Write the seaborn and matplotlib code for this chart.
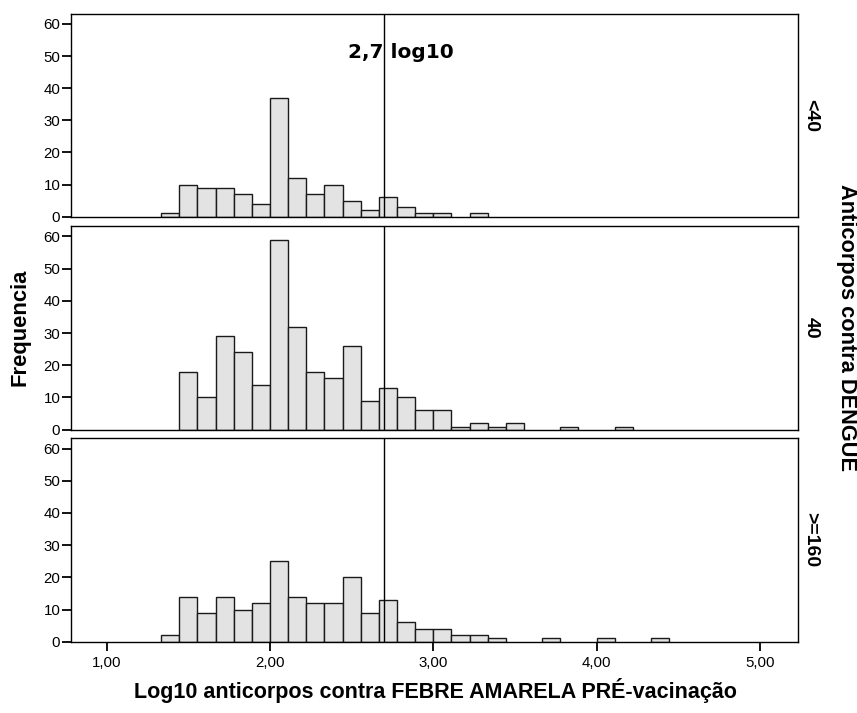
import matplotlib
matplotlib.use("Agg")
import matplotlib.pyplot as plt
import numpy as np
import pandas as pd
import seaborn as sns

# Histogram bins (SPSS layout): first bin starts at 1.333, width 1/9
first_bin = 4 / 3
bin_width = 1 / 9

# Counts per bin for each DENGUE antibody group
groups = ["<40", "40", ">=160"]
counts_lt40 = [1, 10, 9, 9, 7, 4, 37, 12, 7, 10, 5, 2, 6, 3, 1, 1, 0, 1]
counts_40 = [0, 18, 10, 29, 24, 14, 59, 32, 18, 16, 26, 9, 13, 10, 6, 6, 1, 2,
             1, 2, 0, 0, 1, 0, 0, 1]
counts_ge160 = [2, 14, 9, 14, 10, 12, 25, 14, 12, 12, 20, 9, 13, 6, 4, 4, 2, 2,
                1, 0, 0, 1, 0, 0, 1, 0, 0, 1]
cutoff = 2.7
x_ticks = [1, 2, 3, 4, 5]
x_tick_labels = ["1,00", "2,00", "3,00", "4,00", "5,00"]
y_ticks = [0, 10, 20, 30, 40, 50, 60]

sns.set_style("white")
plt.rcParams["font.family"] = ["Liberation Sans", "DejaVu Sans"]
plt.rcParams["text.color"] = "black"
plt.rcParams["xtick.color"] = "black"
plt.rcParams["ytick.color"] = "black"

n_bins = max(len(counts_lt40), len(counts_40), len(counts_ge160))
edges = [first_bin + bin_width * i for i in range(n_bins + 1)]

# Long table: one row per non-empty bin
rows = []
for g, cnt in zip(groups, [counts_lt40, counts_40, counts_ge160]):
    for i, c in enumerate(cnt):
        if c > 0:
            rows.append({"grupo": g, "centro": edges[i] + bin_width / 2, "n": c})
df = pd.DataFrame(rows)

fig = plt.figure(figsize=(8.57, 7.13), dpi=100)
left, width = 0.0825, 0.8487
panels = [(0.6961, 0.2847), (0.3973, 0.2857), (0.1000, 0.2853)]

for k, (g, (b, h)) in enumerate(zip(groups, panels)):
    ax = fig.add_axes([left, b, width, h])
    sub = df[df["grupo"] == g]
    sns.histplot(data=sub, x="centro", weights="n", bins=edges, ax=ax,
                 color="#e3e3e3", edgecolor="#1a1a1a", linewidth=1.0, alpha=1)
    # SPSS does not draw empty bins
    for p in ax.patches:
        if p.get_height() == 0:
            p.set_visible(False)
    ax.axvline(cutoff, color="black", linewidth=1.0)
    ax.set_xlim(0.78, 5.233)
    ax.set_ylim(0, 63.2)
    ax.set_xlabel("")
    ax.set_ylabel("")
    ax.set_yticks(y_ticks)
    ax.set_yticklabels([str(t) for t in y_ticks], fontsize=10.8)
    ax.tick_params(axis="y", length=6.5, width=1.3, color="black", pad=1, left=True)
    for s in ax.spines.values():
        s.set_color("black")
        s.set_linewidth(1.0)
    if k == 2:
        ax.set_xticks(x_ticks)
        ax.set_xticklabels(x_tick_labels, fontsize=10.8)
        ax.tick_params(axis="x", length=6.5, width=1.3, color="black", pad=4, bottom=True)
    else:
        ax.set_xticks([])
    ax.text(1.006, 0.5, g, transform=ax.transAxes, rotation=-90,
            ha="left", va="center", fontsize=14, fontweight="bold")
    if k == 0:
        ax.text(2.478, 51, "2,7 log10", ha="left", va="center", fontsize=14.5,
                fontweight="bold", family="DejaVu Sans")

fig.text(0.508, 0.032, "Log10 anticorpos contra FEBRE AMARELA PRÉ-vacinação",
         ha="center", va="center", fontsize=15.5, fontweight="bold")
fig.text(0.0228, 0.5407, "Frequencia", rotation=90, ha="center", va="center",
         fontsize=15.8, fontweight="bold")
fig.text(0.9877, 0.540, "Anticorpos contra DENGUE", rotation=-90, ha="center",
         va="center", fontsize=15.7, fontweight="bold")

fig.savefig("out.png", dpi=100)
